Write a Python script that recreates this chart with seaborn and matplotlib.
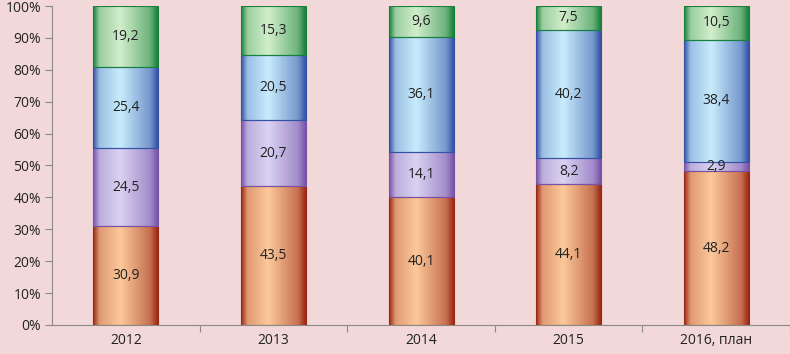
import numpy as np
import pandas as pd
import matplotlib
matplotlib.use("Agg")
import matplotlib.pyplot as plt
import seaborn as sns
from matplotlib.colors import LinearSegmentedColormap
from matplotlib.ticker import PercentFormatter, FixedLocator

categories = ["2012", "2013", "2014", "2015", "2016, план"]
s1 = [30.9, 43.5, 40.1, 44.1, 48.2]
s2 = [24.5, 20.7, 14.1, 8.2, 2.9]
s3 = [25.4, 20.5, 36.1, 40.2, 38.4]
s4 = [19.2, 15.3, 9.6, 7.5, 10.5]
series = [s1, s2, s3, s4]

# (edge color, center color)
grads = [("#9a2814", "#fcc99a"),
         ("#7652a8", "#d9d3f2"),
         ("#3252a6", "#c8ecfc"),
         ("#17803a", "#d2eecb")]

bg = "#f2d8d8"
sns.set_theme(style="white")
plt.rcParams["font.family"] = ["Open Sans", "DejaVu Sans"]

fig = plt.figure(figsize=(7.9, 3.54), dpi=100, facecolor=bg)
ax = fig.add_axes([0.066, 0.082, 0.934, 0.901])
ax.set_facecolor(bg)

bottom = np.zeros(len(categories))
for vals, (ec, cc) in zip(series, grads):
    df = pd.DataFrame({"cat": categories, "val": vals})
    n0 = len(ax.patches)
    sns.barplot(data=df, x="cat", y="val", bottom=bottom, width=0.44,
                color=ec, ax=ax, edgecolor=ec, linewidth=0.8, saturation=1)
    cmap = LinearSegmentedColormap.from_list(
        "g", [(0, ec), (0.45, cc), (1, ec)])
    grad = np.linspace(0, 1, 256)
    prof = np.interp(grad, [0, 0.1, 0.42, 0.88, 1], [0, 0.32, 0.45, 0.75, 1])
    img = prof.reshape(1, -1)
    for p, v, b in zip(ax.patches[n0:], vals, bottom):
        x0, y0 = p.get_x(), p.get_y()
        w, h = p.get_width(), p.get_height()
        im = ax.imshow(img, cmap=cmap, vmin=0, vmax=1, aspect="auto",
                       extent=[x0, x0 + w, y0, y0 + h], zorder=p.get_zorder(),
                       interpolation="bicubic")
        im.set_clip_path(p)
        p.set_facecolor("none")
        p.set_zorder(p.get_zorder() + 0.1)
        ax.text(x0 + w / 2, b + v / 2, f"{v:.1f}".replace(".", ","),
                ha="center", va="center", fontsize=10, color="#222222",
                zorder=5)
    bottom = bottom + np.array(vals)

ax.set_xlim(-0.5, len(categories) - 0.5)
ax.set_ylim(0, 100)
ax.yaxis.set_major_locator(FixedLocator(np.arange(0, 101, 10)))
ax.yaxis.set_major_formatter(PercentFormatter(100, decimals=0))
ax.set_xlabel("")
ax.set_ylabel("")
for s in ["top", "right"]:
    ax.spines[s].set_visible(False)
for s in ["left", "bottom"]:
    ax.spines[s].set_color("#8a8a8a")
    ax.spines[s].set_linewidth(0.8)
ax.set_xticks(np.arange(len(categories)))
ax.set_xticklabels(categories)
ax.set_xticks(np.arange(len(categories)) + 0.5, minor=True)
ax.tick_params(axis="x", which="major", length=0, labelsize=10, colors="#222222", pad=6)
ax.tick_params(axis="x", which="minor", length=5, width=0.8, color="#8a8a8a", direction="out", bottom=True)
ax.tick_params(axis="y", length=5, width=0.8, color="#8a8a8a", labelsize=10, labelcolor="#222222", direction="out", left=True, pad=3)

fig.savefig("out.png", dpi=100, facecolor=bg)
